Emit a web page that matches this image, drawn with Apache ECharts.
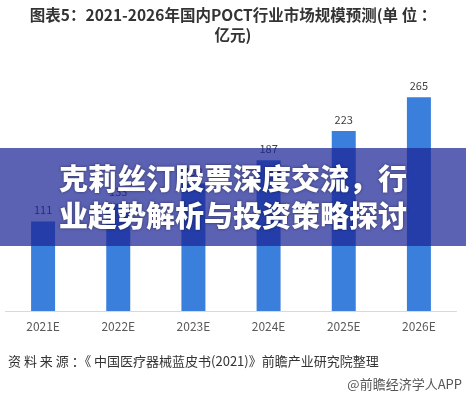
<!DOCTYPE html>
<html><head><meta charset="utf-8">
<script src="https://cdn.jsdelivr.net/npm/echarts@6/dist/echarts.min.js"></script>
<style>html,body{margin:0;padding:0;background:#fff;}#c{width:466px;height:395px;}</style>
</head><body><div id="c"></div>
<script>
const categories = ['2021E','2022E','2023E','2024E','2025E','2026E'];
const values = [111, 133, 158, 187, 223, 265];
const titleLines = ['图表5：2021-2026年国内POCT行业市场规模预测(单 位 ：', '亿元)'];
const bannerLines = ['克莉丝汀股票深度交流，行', '业趋势解析与投资策略探讨'];
const sourceText = '资 料 来 源 ：《 中国医疗器械蓝皮书(2021)》前瞻产业研究院整理';
const brandText = '@前瞻经济学人APP';

const chart = echarts.init(document.getElementById('c'), null, {renderer:'canvas'});
const F = '"Noto Sans CJK SC", "Noto Sans", sans-serif';
chart.setOption({
  animation: false,
  grid: {left: 5.5, right: 9.5, top: 69, bottom: 84, containLabel: false},
  xAxis: {
    type: 'category', data: categories,
    axisLine: {lineStyle: {color: '#d9d9d9'}},
    axisTick: {show: false},
    axisLabel: {color: '#595959', fontSize: 12, margin: 9, fontFamily: F}
  },
  yAxis: {type: 'value', min: 0, max: 300, show: false, splitLine: {show: false}},
  series: [{
    type: 'bar', data: values, barWidth: 24,
    itemStyle: {color: '#3a7fdc'},
    label: {show: true, position: 'top', color: '#404040', fontSize: 11, distance: 6, fontFamily: F}
  }],
  graphic: [
    {type: 'text', z: 101, x: 233, y: 7, style: {text: titleLines[0], textAlign: 'center', fontSize: 15.5, fontWeight: 'bold', fill: '#333', fontFamily: F}},
    {type: 'text', z: 101, x: 233, y: 27, style: {text: titleLines[1], textAlign: 'center', fontSize: 15.5, fontWeight: 'bold', fill: '#333', fontFamily: F}},
    {type: 'rect', z: 100, shape: {x: 0, y: 148, width: 466, height: 98}, style: {fill: 'rgba(28,36,150,0.72)'}},
    {type: 'text', z: 101, x: 233, y: 164, style: {text: bannerLines[0], textAlign: 'center', fontSize: 29, fontWeight: 900, fill: '#fff', fontFamily: F, textShadowColor: 'rgba(0,0,0,0.5)', textShadowBlur: 3}},
    {type: 'text', z: 101, x: 233, y: 201, style: {text: bannerLines[1], textAlign: 'center', fontSize: 29, fontWeight: 900, fill: '#fff', fontFamily: F, textShadowColor: 'rgba(0,0,0,0.5)', textShadowBlur: 3}},
    {type: 'text', z: 101, left: 8, top: 355, style: {text: sourceText, fontSize: 13, fill: '#333', fontFamily: F}},
    {type: 'text', z: 101, right: 4, top: 378, style: {text: brandText, fontSize: 13, fill: '#555', fontFamily: F}}
  ]
});
</script></body></html>
